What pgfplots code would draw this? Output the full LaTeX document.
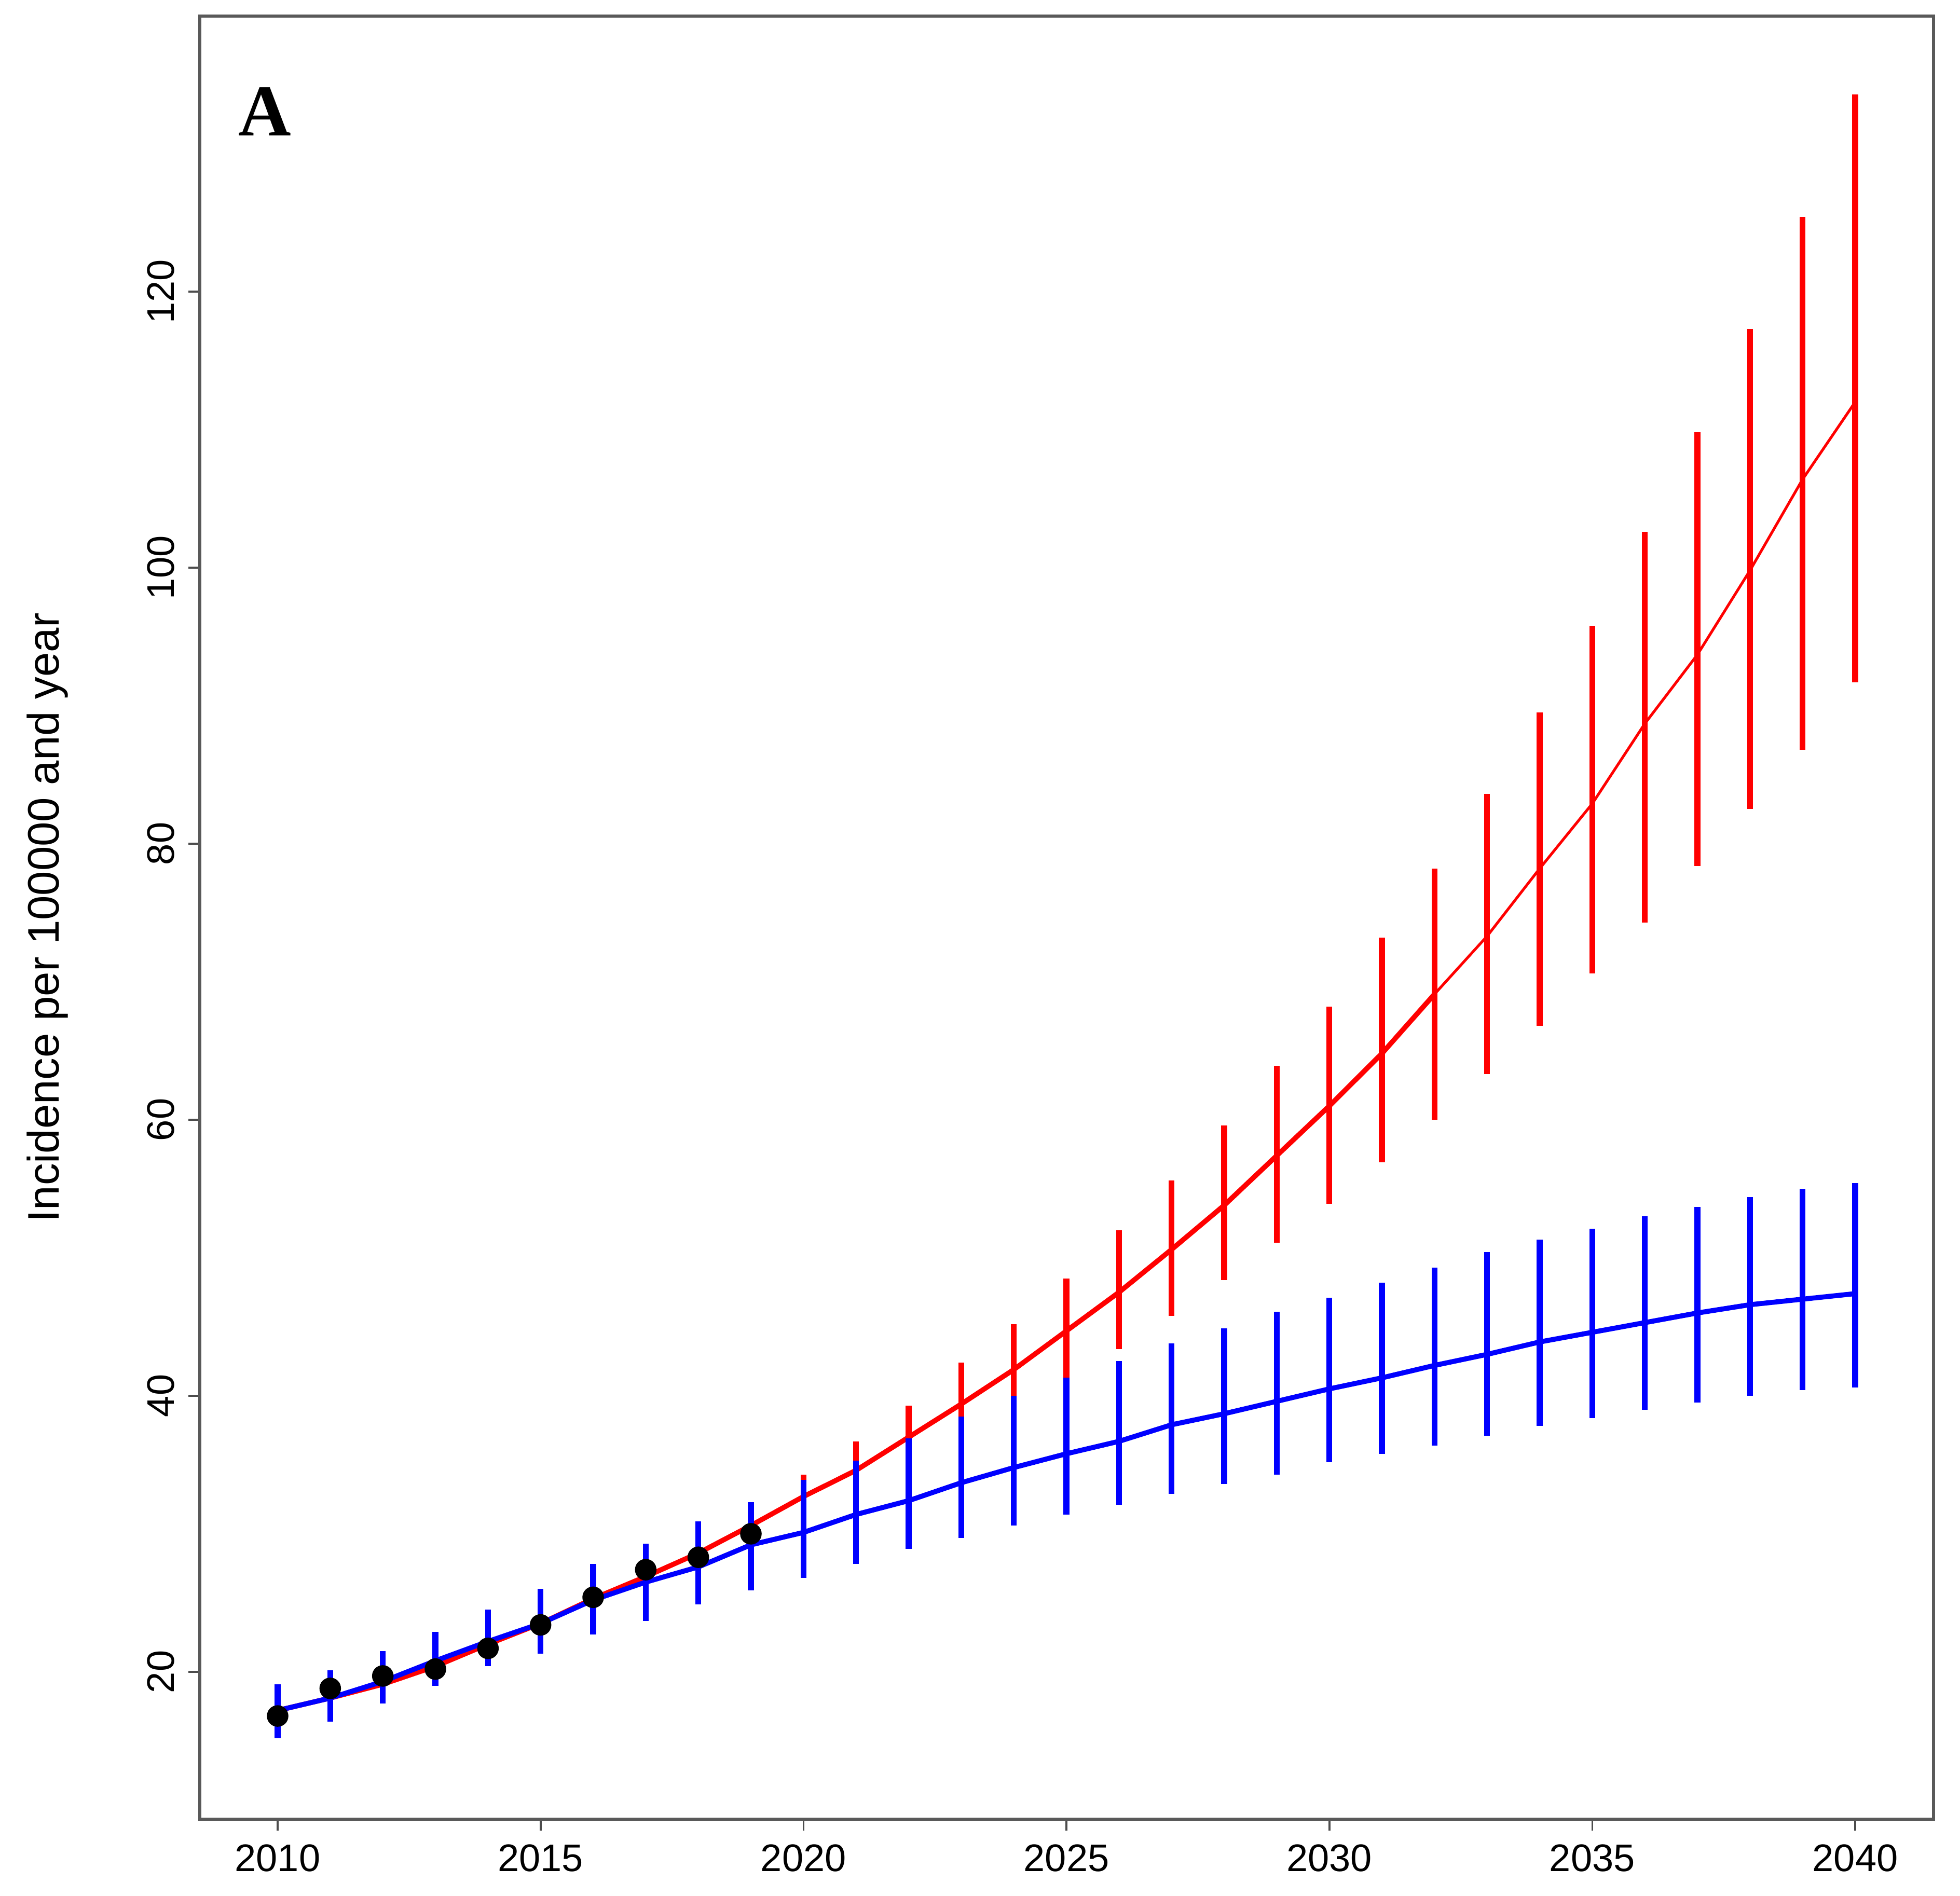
\documentclass[border=0pt]{standalone}
\usepackage{fontspec}
\setmainfont{Liberation Sans}
\newfontfamily\panelfont{Liberation Serif}
\usepackage{pgfplots}
\usepackage{pgfplotstable}
\pgfplotsset{compat=1.18}

% projection with trend (red): centre, lower, upper
\pgfplotstableread{
year c lo hi
2010 17.2 15.4 18.9
2011 18.1 16.6 19.9
2012 19.1 17.9 21.3
2013 20.4 19.2 22.7
2014 22.0 20.6 24.3
2015 23.5 21.5 25.8
2016 25.3 22.9 27.6
2017 26.9 23.9 29.1
2018 28.6 25.1 30.7
2019 30.6 26.1 32.1
2020 32.7 31.1 34.3
2021 34.6 32.5 36.7
2022 37.0 34.7 39.3
2023 39.4 36.3 42.4
2024 41.9 38.5 45.2
2025 44.7 40.9 48.5
2026 47.5 43.4 52.0
2027 50.6 45.8 55.6
2028 53.8 48.4 59.6
2029 57.4 51.1 63.9
2030 61.0 53.9 68.2
2031 64.8 56.9 73.2
2032 69.1 60.0 78.2
2033 73.3 63.3 83.6
2034 78.2 66.8 89.5
2035 82.9 70.6 95.8
2036 88.7 74.3 102.6
2037 93.7 78.4 109.8
2038 99.8 82.5 117.3
2039 106.4 86.8 125.4
2040 112.0 91.7 134.3
}\redtab

% constant scenario (blue)
\pgfplotstableread{
year c lo hi
2010 17.2 15.2 19.1
2011 18.1 16.4 20.1
2012 19.3 17.7 21.5
2013 20.8 19.0 22.9
2014 22.2 20.4 24.5
2015 23.5 21.3 26.0
2016 25.2 22.7 27.8
2017 26.5 23.7 29.3
2018 27.6 24.9 30.9
2019 29.2 25.9 32.3
2020 30.1 26.8 33.9
2021 31.4 27.8 35.3
2022 32.4 28.9 36.9
2023 33.7 29.7 38.5
2024 34.8 30.6 40.0
2025 35.8 31.4 41.3
2026 36.7 32.1 42.5
2027 37.9 32.9 43.8
2028 38.7 33.6 44.9
2029 39.6 34.3 46.1
2030 40.5 35.2 47.1
2031 41.3 35.8 48.2
2032 42.2 36.4 49.3
2033 43.0 37.1 50.4
2034 43.9 37.8 51.3
2035 44.6 38.4 52.1
2036 45.3 39.0 53.0
2037 46.0 39.5 53.7
2038 46.6 40.0 54.4
2039 47.0 40.4 55.0
2040 47.4 40.6 55.4
}\bluetab

% observed
\pgfplotstableread{
year obs
2010 16.8
2011 18.8
2012 19.7
2013 20.2
2014 21.7
2015 23.4
2016 25.4
2017 27.4
2018 28.3
2019 30.0
}\obstab

\begin{document}
\begin{tikzpicture}
\begin{axis}[
    scale only axis,
    width=451.1pt, height=469.2pt,
    xmin=2008.52, xmax=2041.49,
    ymin=9.32, ymax=139.96,
    xtick={2010,2015,...,2040},
    ytick={20,40,...,120},
    xtick pos=left, ytick pos=left,
    tick align=outside,
    major tick length=3pt,
    tick style={black!70, line width=0.5pt},
    axis line style={black!65, line width=0.8pt},
    /pgf/number format/1000 sep={},
    /pgf/number format/assume math mode=true,
    tick label style={font=\fontsize{10}{12}\selectfont},
    yticklabel style={rotate=90, anchor=south},
    ylabel={Incidence per 100000 and year},
    ylabel style={at={([xshift=-36.73pt]rel axis cs:0,0.5)}, anchor=base,
                  font=\fontsize{11.5}{14}\selectfont},
  ]
  % red: thick part, then thinner part
  \addplot[red, line width=1.3pt, mark=none, restrict x to domain=2010:2032,
      error bars/.cd, y dir=both, y explicit, error mark=none,
      error bar style={line width=1.5pt, red}]
    table[x=year, y=c, y error plus expr=\thisrow{hi}-\thisrow{c},
          y error minus expr=\thisrow{c}-\thisrow{lo}] {\redtab};
  \addplot[red, line width=0.7pt, mark=none, restrict x to domain=2032:2040,
      error bars/.cd, y dir=both, y explicit, error mark=none,
      error bar style={line width=1.5pt, red}]
    table[x=year, y=c, y error plus expr=\thisrow{hi}-\thisrow{c},
          y error minus expr=\thisrow{c}-\thisrow{lo}] {\redtab};
  % blue
  \addplot[blue, line width=1.3pt, mark=none,
      error bars/.cd, y dir=both, y explicit, error mark=none,
      error bar style={line width=1.5pt, blue}]
    table[x=year, y=c, y error plus expr=\thisrow{hi}-\thisrow{c},
          y error minus expr=\thisrow{c}-\thisrow{lo}] {\bluetab};
  % observed
  \addplot[only marks, mark=*, mark size=2.6pt, black] table[x=year, y=obs] {\obstab};

  \node[anchor=base west, inner sep=0pt,
        font=\panelfont\bfseries\fontsize{19}{22}\selectfont]
    at ([xshift=9.86pt, yshift=-31.06pt]rel axis cs:0,1) {A};
\end{axis}
\pgfresetboundingbox
\path ([xshift=-51.99pt, yshift=-19.85pt]current axis.south west)
  rectangle ([xshift=6.89pt, yshift=4.19pt]current axis.north east);
\end{tikzpicture}
\end{document}
